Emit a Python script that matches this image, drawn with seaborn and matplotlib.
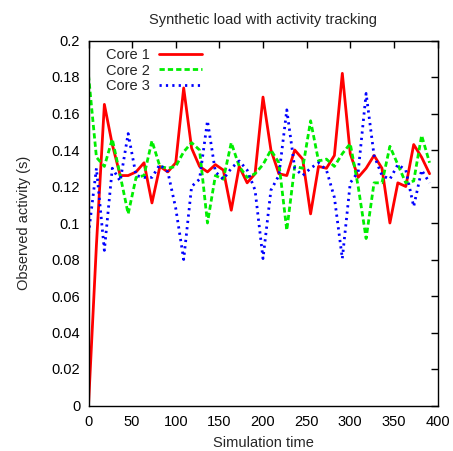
import matplotlib
matplotlib.use("Agg")
import matplotlib.pyplot as plt
import seaborn as sns
import pandas as pd

time = [0, 9.09, 18.18, 27.27, 36.36, 45.45, 54.55, 63.64, 72.73, 81.82,
        90.91, 100, 109.09, 118.18, 127.27, 136.36, 145.45, 154.55, 163.64, 172.73,
        181.82, 190.91, 200, 209.09, 218.18, 227.27, 236.36, 245.45, 254.55, 263.64,
        272.73, 281.82, 290.91, 300, 309.09, 318.18, 327.27, 336.36, 345.45, 354.55,
        363.64, 372.73, 381.82, 390.91]

core1 = [0, 0.088, 0.165, 0.143, 0.126, 0.126, 0.128, 0.133, 0.111, 0.131,
         0.128, 0.133, 0.174, 0.141, 0.131, 0.128, 0.132, 0.129, 0.107, 0.131,
         0.122, 0.127, 0.169, 0.14, 0.127, 0.126, 0.14, 0.135, 0.105, 0.131,
         0.13, 0.137, 0.182, 0.138, 0.125, 0.13, 0.137, 0.13, 0.1, 0.122,
         0.12, 0.143, 0.136, 0.127]
core2 = [0.181, 0.136, 0.131, 0.146, 0.126, 0.105, 0.125, 0.126, 0.145, 0.131,
         0.13, 0.131, 0.139, 0.144, 0.14, 0.1, 0.126, 0.124, 0.144, 0.131,
         0.125, 0.127, 0.132, 0.14, 0.133, 0.096, 0.131, 0.13, 0.156, 0.134,
         0.135, 0.131, 0.138, 0.1435, 0.12, 0.0915, 0.122, 0.122, 0.142, 0.132,
         0.122, 0.123, 0.148, 0.133]
core3 = [0.094, 0.13, 0.085, 0.13, 0.123, 0.149, 0.126, 0.125, 0.125, 0.132,
         0.128, 0.108, 0.08, 0.12, 0.124, 0.156, 0.128, 0.124, 0.13, 0.134,
         0.129, 0.118, 0.0805, 0.118, 0.126, 0.162, 0.13, 0.126, 0.13, 0.133,
         0.129, 0.114, 0.0805, 0.122, 0.128, 0.171, 0.137, 0.126, 0.124, 0.132,
         0.129, 0.109, 0.129, 0.122]

series_names = ["Core 1", "Core 2", "Core 3"]
x_ticks = [0, 50, 100, 150, 200, 250, 300, 350, 400]
y_ticks = [0, 0.02, 0.04, 0.06, 0.08, 0.1, 0.12, 0.14, 0.16, 0.18, 0.2]
y_tick_labels = ["0", "0.02", "0.04", "0.06", "0.08", "0.1", "0.12", "0.14", "0.16", "0.18", "0.2"]

sns.set_style("white")
plt.rcParams["font.family"] = ["Liberation Sans", "DejaVu Sans"]

FS = 10.5

fig = plt.figure(figsize=(4.53, 4.51), dpi=100)
ax = fig.add_axes([88.5 / 453, 1 - 405.5 / 451, (437.5 - 88.5) / 453, (405.5 - 40.5) / 451])

styles = [
    dict(color="#ff0000", linestyle="-", linewidth=2.0),
    dict(color="#00ee00", linestyle=(0, (1.9, 1.1)), linewidth=2.0),
    dict(color="#0000ff", linestyle=(0, (0.8, 1.5)), linewidth=2.0),
]
for name, vals, st in zip(series_names, [core1, core2, core3], styles):
    df = pd.DataFrame({"t": time, "v": vals})
    sns.lineplot(data=df, x="t", y="v", ax=ax, label=name, **st)

ax.set_xlim(0, 400)
ax.set_ylim(0, 0.2)
ax.set_xticks(x_ticks)
ax.set_xticklabels([str(t) for t in x_ticks])
ax.set_yticks(y_ticks)
ax.set_yticklabels(y_tick_labels)
ax.tick_params(direction="in", length=5, width=1, top=True, right=True,
               labelsize=FS, colors="black")
ax.tick_params(axis="x", pad=7)
ax.tick_params(axis="y", pad=6)
for sp in ax.spines.values():
    sp.set_color("black")
    sp.set_linewidth(1.0)

ax.set_xlabel("Simulation time", fontsize=FS, labelpad=5)
ax.set_ylabel("Observed activity (s)", fontsize=FS, labelpad=15)
ax.set_title("Synthetic load with activity tracking", fontsize=FS, pad=12)

leg = ax.legend(loc="upper left", frameon=False, markerfirst=False, fontsize=FS,
                handlelength=2.9, handletextpad=0.68, labelspacing=0.12,
                borderaxespad=0.1, bbox_to_anchor=(0.028, 1.0))

fig.savefig("out.png", dpi=100)
